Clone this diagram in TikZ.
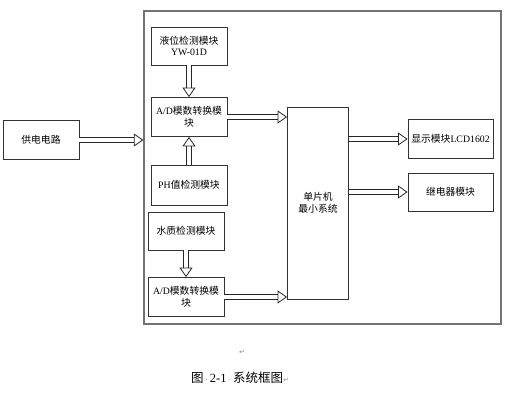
\documentclass[tikz,border=0pt]{standalone}
\usepackage{fontspec}
\setmainfont{Noto Sans CJK SC}
\newfontfamily\symfont{DejaVu Sans}
\newfontfamily\latfont{Liberation Serif}
\newcommand{\lat}[1]{{\latfont #1}}
\newcommand{\wmark}[1]{{\symfont\color{black!45}\fontsize{7}{8}\selectfont #1}}
\usetikzlibrary{arrows.meta}
\tikzset{
  box/.style={draw=black!80, line width=0.8pt, minimum width=76pt, minimum height=38pt,
    align=center, inner sep=1pt, font=\fontsize{9.8}{11.5}\selectfont},
  shaft/.style={draw=black!85, line width=1pt, double=white, double distance=4pt, shorten >=9pt},
  head/.style={draw=white, line width=0.5pt,
    -{Triangle[open, width=13pt, length=9.5pt, line width=0.8pt, color=black!85]}},
}
\begin{document}
\begin{tikzpicture}[x=1pt, y=-1pt]
  \useasboundingbox (0,0) rectangle (525,402);
  \node[draw=black!55, line width=1.3pt, minimum width=357pt, minimum height=313pt] (frame) at (322.5,167.5) {};
  \node[box, minimum height=39pt] (power) at (41,140) {供电电路};
  \node[box] (level) at (189,46) {液位检测模块\\\lat{YW-01D}};
  \node[box, minimum height=39pt] (ad1) at (189,117) {\lat{A/D}模数转换模\\块};
  \node[box, minimum height=40pt] (ph) at (189,185) {\lat{PH}值检测模块};
  \node[box] (water) at (186,231) {水质检测模块};
  \node[box, minimum height=39pt] (ad2) at (186,297) {\lat{A/D}模数转换模\\块};
  \node[box, minimum width=61pt, minimum height=192pt] (mcu) at (318,203) {单片机\\最小系统};
  \node[box, minimum width=85pt, minimum height=39pt] (lcd) at (450.5,139) {显示模块\lat{LCD1602}};
  \node[box, minimum width=85pt] (relay) at (450.5,192) {继电器模块};
  % connectors: double shaft, then open head
  \foreach \a/\b in {power.east/power.east -| frame.west, level.south/ad1.north, ph.north/ad1.south,
      ad1.east/ad1.east -| mcu.west, water.south/ad2.north, ad2.east/ad2.east -| mcu.west,
      lcd.west -| mcu.east/lcd.west, relay.west -| mcu.east/relay.west} {
    \draw[shaft] (\a) -- (\b);
    \draw[head] (\a) -- (\b);
  }
  % caption
  \node (mark) at (242,352) {\wmark{↵}};
  \node[font=\fontsize{12.5}{14}\selectfont] (caption) at (240,378)
    {图\,\wmark{·}\,\lat{2-1}\,\wmark{·}\,系统框图\wmark{↵}};
\end{tikzpicture}
\end{document}
